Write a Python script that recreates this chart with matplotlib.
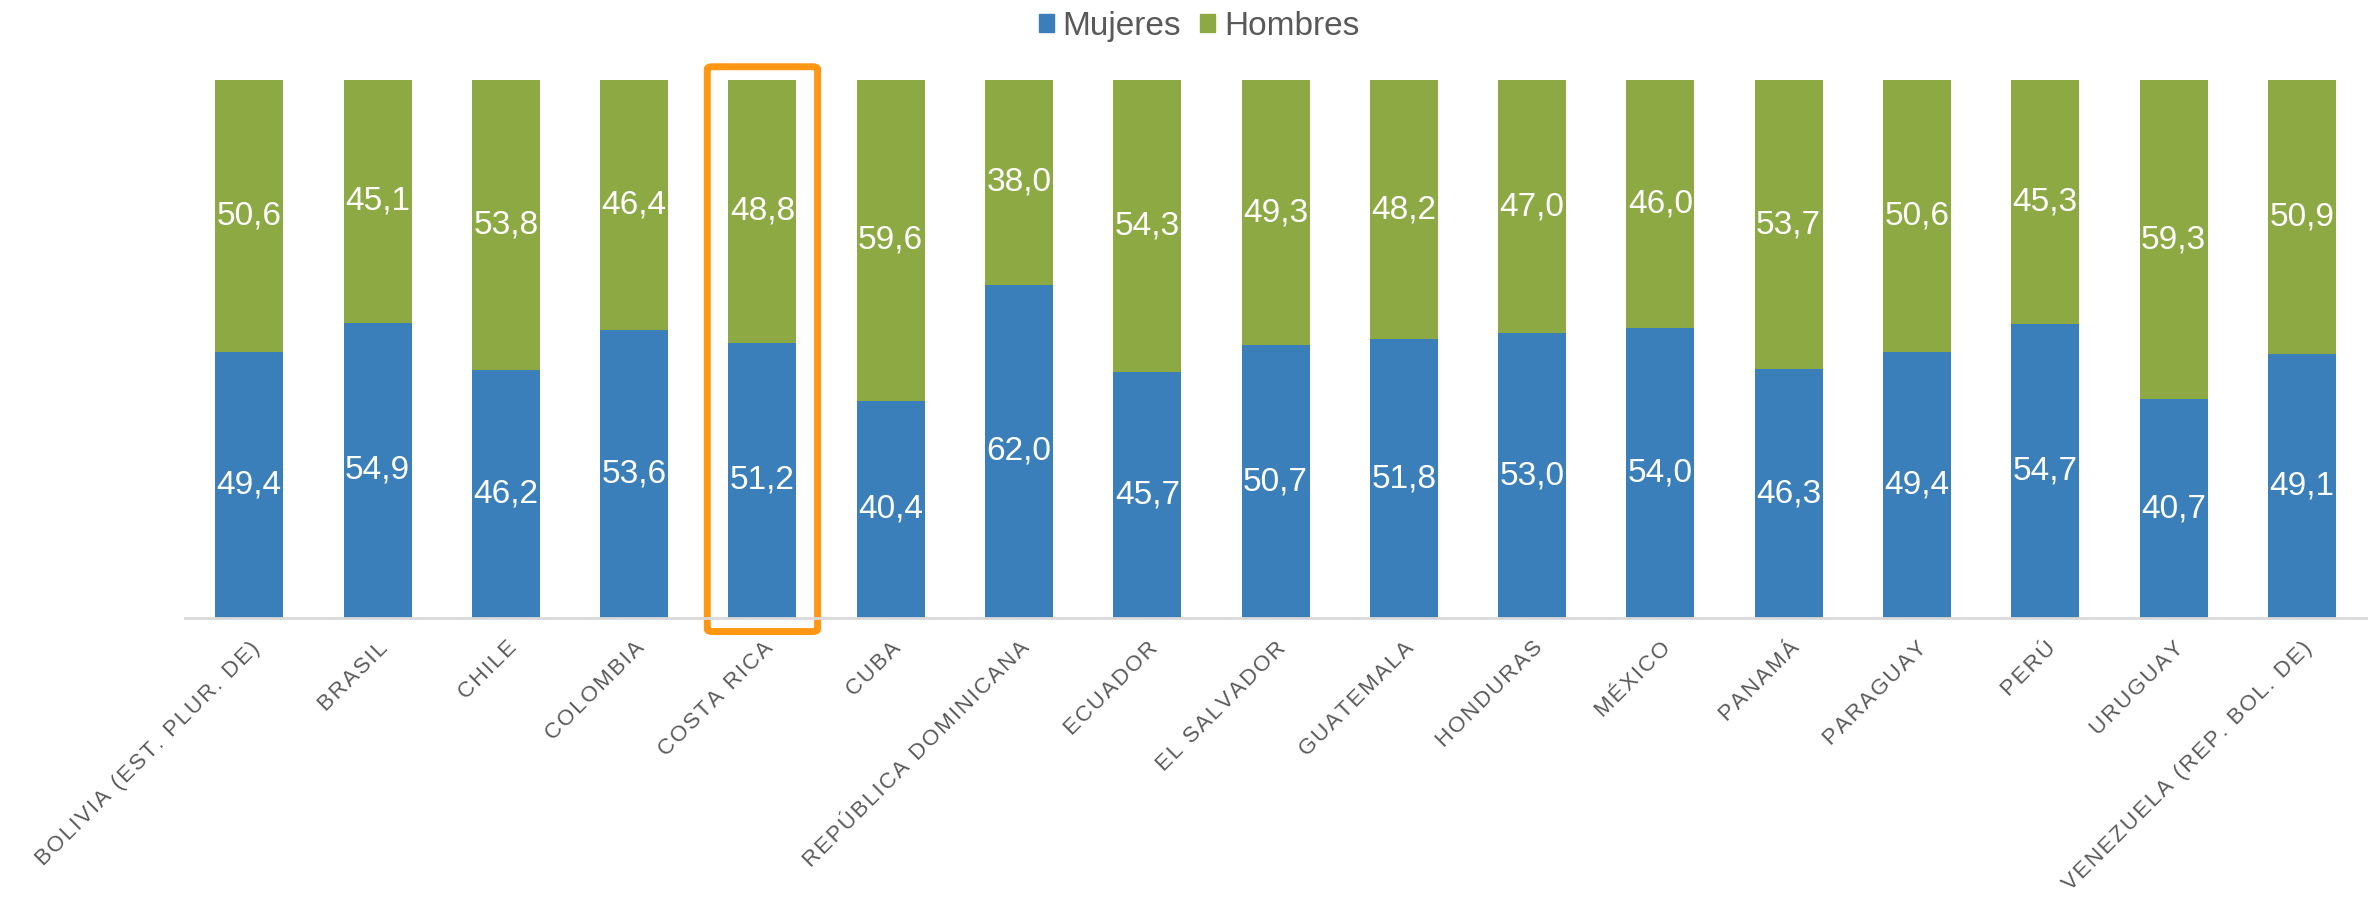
import matplotlib
matplotlib.use("Agg")
import matplotlib.pyplot as plt
from matplotlib.patches import FancyBboxPatch, Patch
import numpy as np

plt.rcParams['font.family'] = ['Liberation Sans', 'DejaVu Sans']

countries = ["BOLIVIA (EST. PLUR. DE)", "BRASIL", "CHILE", "COLOMBIA", "COSTA RICA",
             "CUBA", "REPÚBLICA DOMINICANA", "ECUADOR", "EL SALVADOR", "GUATEMALA",
             "HONDURAS", "MÉXICO", "PANAMÁ", "PARAGUAY", "PERÚ", "URUGUAY",
             "VENEZUELA (REP. BOL. DE)"]
mujeres = [49.4, 54.9, 46.2, 53.6, 51.2, 40.4, 62.0, 45.7, 50.7, 51.8, 53.0, 54.0,
           46.3, 49.4, 54.7, 40.7, 49.1]
hombres = [50.6, 45.1, 53.8, 46.4, 48.8, 59.6, 38.0, 54.3, 49.3, 48.2, 47.0, 46.0,
           53.7, 50.6, 45.3, 59.3, 50.9]
highlight = "COSTA RICA"

blue = "#3A7FBA"
green = "#8CA943"
grey = "#595959"

fig = plt.figure(figsize=(23.74, 9.01), dpi=100)
ax = fig.add_axes([0.078, 0.314, 0.9186, 0.597])

x = np.arange(len(countries))
b1 = ax.bar(x, mujeres, width=0.53, color=blue)
b2 = ax.bar(x, hombres, width=0.53, bottom=mujeres, color=green)

def fmt(v):
    return f"{v:.1f}".replace(".", ",")

for bars, vals, base in ((b1, mujeres, [0] * len(mujeres)), (b2, hombres, mujeres)):
    for xi, v, b in zip(x, vals, base):
        ax.text(xi, b + v / 2, fmt(v), ha="center", va="center",
                color="white", fontsize=24)

ax.set_xlim(-0.5, len(countries) - 0.5)
ax.set_ylim(0, 100)
ax.set_yticks([])
for s in ["top", "right", "left"]:
    ax.spines[s].set_visible(False)
ax.spines["bottom"].set_color("#D9D9D9")
ax.spines["bottom"].set_linewidth(2)

# spaced-out labels like the original
spaced = ["\u200a".join(c) for c in countries]
ax.set_xticks(x)
ax.set_xticklabels(spaced, rotation=45, ha="right", rotation_mode="anchor",
                   fontsize=16, color=grey)
ax.tick_params(axis="x", length=0, pad=14)

# orange highlight box
i = countries.index(highlight)
box = FancyBboxPatch((i - 0.43, -2.5), 0.86, 105, boxstyle="round,pad=0,rounding_size=0.04",
                     fill=False, edgecolor="#FF9614", linewidth=5, clip_on=False,
                     mutation_aspect=12)
ax.add_patch(box)

handles = [Patch(color=blue, label="Mujeres"), Patch(color=green, label="Hombres")]
fig.legend(handles=handles, loc="center", bbox_to_anchor=(0.505, 0.971), ncol=2,
           frameon=False, fontsize=24, handlelength=0.45, handleheight=0.45,
           handletextpad=0.25, columnspacing=0.6, labelcolor=grey)

fig.savefig("out.png", dpi=100)
